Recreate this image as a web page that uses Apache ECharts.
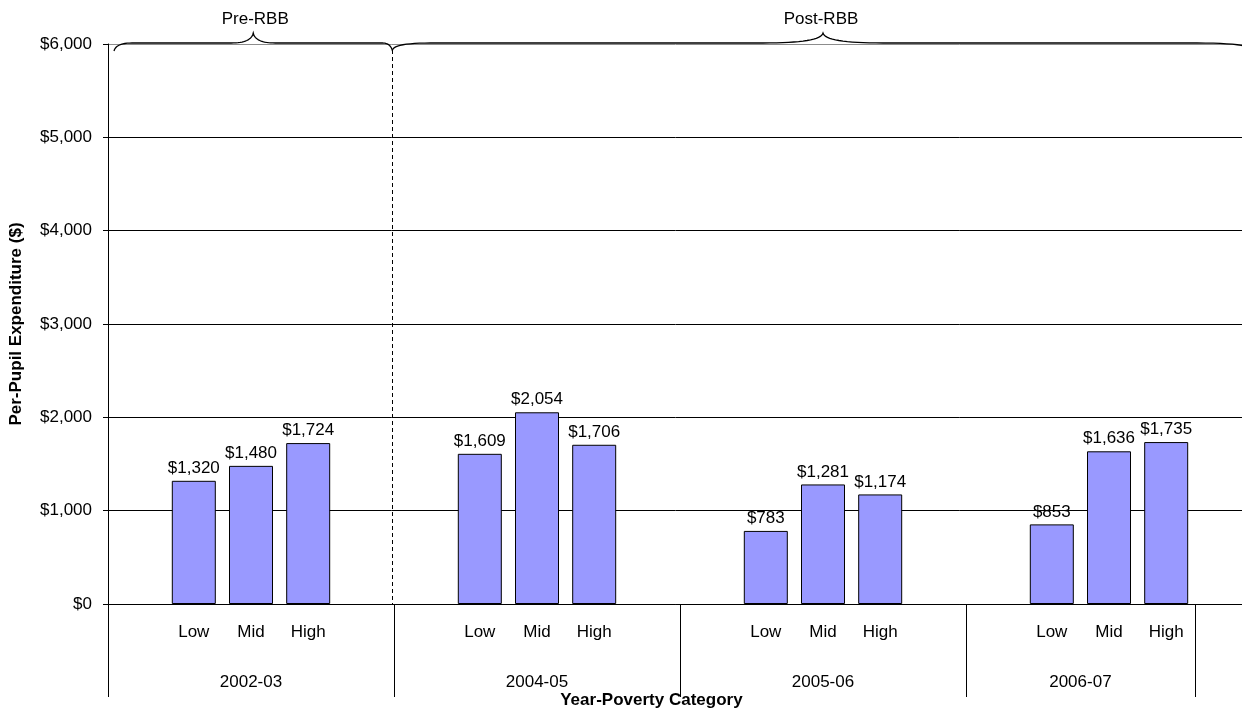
<!DOCTYPE html>
<html>
<head>
<meta charset="utf-8">
<script src="https://cdn.jsdelivr.net/npm/echarts@6/dist/echarts.min.js"></script>
<style>
html,body{margin:0;padding:0;background:#fff;}
#chart{width:1242px;height:708px;}
</style>
</head>
<body>
<div id="chart"></div>
<script>
// ---- data ----
const years = ['2002-03', '2004-05', '2005-06', '2006-07'];
const povertyLevels = ['Low', 'Mid', 'High'];
const values2002 = [1320, 1480, 1724];
const values2004 = [1609, 2054, 1706];
const values2005 = [783, 1281, 1174];
const values2006 = [853, 1636, 1735];
const yTicks = [0, 1000, 2000, 3000, 4000, 5000, 6000];
const periodLabels = ['Pre-RBB', 'Post-RBB'];
const xTitle = 'Year-Poverty Category';
const yTitle = 'Per-Pupil Expenditure ($)';

const allValues = [values2002, values2004, values2005, values2006];

// category slots: blank, Low, Mid, High, blank per year (last year has no trailing blank), then a filler slot
const categories = [];
const barData = [];
const groupBounds = [0];
years.forEach((yr, gi) => {
  categories.push(yr + '|_a'); barData.push(null);
  povertyLevels.forEach((lv, li) => { categories.push(yr + '|' + lv); barData.push(allValues[gi][li]); });
  if (gi < years.length - 1) { categories.push(yr + '|_b'); barData.push(null); }
  groupBounds.push(categories.length);
});
categories.push('end|_c'); barData.push(null);

const FONT = '"Liberation Sans", Arial, sans-serif';
const FS = 17;
const fmtMoney = v => '$' + String(v).replace(/\B(?=(\d{3})+(?!\d))/g, ',');

const chart = echarts.init(document.getElementById('chart'));
const option = {
  animation: false,
  backgroundColor: '#fff',
  textStyle: { fontFamily: FONT },
  grid: { left: 108, top: 44, height: 560, width: 1144, containLabel: false, outerBoundsMode: 'none' },
  xAxis: {
    type: 'category',
    data: categories,
    axisLine: { show: true, lineStyle: { color: '#000', width: 1 } },
    axisTick: { show: false },
    axisLabel: {
      interval: 0, margin: 20, fontSize: FS, color: '#000', fontFamily: FONT,
      formatter: v => { const p = v.split('|')[1]; return p.charAt(0) === '_' ? '' : p; }
    },
    splitLine: { show: false }
  },
  yAxis: {
    type: 'value',
    min: yTicks[0], max: yTicks[yTicks.length - 1], interval: 1000,
    axisLine: { show: true, lineStyle: { color: '#000', width: 1 } },
    axisTick: { show: true, inside: false, length: 5, lineStyle: { color: '#000' } },
    axisLabel: { margin: 16, fontSize: FS, color: '#000', fontFamily: FONT, formatter: fmtMoney },
    splitLine: { show: true, lineStyle: { color: ['#000', '#000', '#000', '#000', '#000', '#000', '#8c8c8c'], width: 1 } },
    name: yTitle, nameLocation: 'middle', nameGap: 83, nameRotate: 90,
    nameTextStyle: { fontSize: FS, fontWeight: 'bold', color: '#000', fontFamily: FONT }
  },
  series: [{
    type: 'bar',
    data: barData,
    barWidth: 44,
    itemStyle: { color: '#9999FF', borderColor: '#000', borderWidth: 1 },
    label: {
      show: true, position: 'top', distance: 4, fontSize: FS, color: '#000', fontFamily: FONT,
      formatter: p => fmtMoney(p.value)
    }
  }]
};
chart.setOption(option);

// ---- decorations placed through the axes ----
const c0 = chart.convertToPixel({ xAxisIndex: 0 }, categories[0]);
const c1 = chart.convertToPixel({ xAxisIndex: 0 }, categories[1]);
const bw = c1 - c0;
const bx = b => c0 - bw / 2 + b * bw;
const yTop = chart.convertToPixel({ yAxisIndex: 0 }, yTicks[yTicks.length - 1]);
const yBase = chart.convertToPixel({ yAxisIndex: 0 }, yTicks[0]);

const g = [];
groupBounds.forEach(b => {
  const x = Math.round(bx(b)) + 0.5;
  g.push({ type: 'line', shape: { x1: x, y1: yBase, x2: x, y2: yBase + 93 },
    style: { stroke: '#000', lineWidth: 1 }, z: 10 });
});
years.forEach((yr, i) => {
  g.push({ type: 'text', x: (bx(groupBounds[i]) + bx(groupBounds[i + 1])) / 2, y: yBase + 78,
    style: { text: yr, font: FS + 'px ' + FONT, fill: '#000', align: 'center', verticalAlign: 'middle' }, z: 10 });
});
g.push({ type: 'text', x: (bx(groupBounds[0]) + bx(groupBounds[groupBounds.length - 1])) / 2, y: yBase + 96,
  style: { text: xTitle, font: 'bold ' + FS + 'px ' + FONT, fill: '#000', align: 'center', verticalAlign: 'middle' }, z: 10 });

const dashX = Math.round(bx(groupBounds[1])) - 1.5;
g.push({ type: 'line', shape: { x1: dashX, y1: yTop + 6, x2: dashX, y2: yBase },
  style: { stroke: '#000', lineWidth: 1, lineDash: [4, 3] }, z: 10 });

// brace as sampled quadratic curves
function quad(p0, c, p1, n) {
  const pts = [];
  for (let i = 0; i <= n; i++) {
    const t = i / n, u = 1 - t;
    pts.push([u * u * p0[0] + 2 * u * t * c[0] + t * t * p1[0], u * u * p0[1] + 2 * u * t * c[1] + t * t * p1[1]]);
  }
  return pts;
}
function brace(x1, x2, xm, y0, endCurveL, endCurveR, peakCurve, drop, rise) {
  let pts = [];
  pts = pts.concat(quad([x1, y0 + drop], [x1 + 2, y0], [x1 + endCurveL, y0], 12));
  pts = pts.concat(quad([xm - peakCurve, y0], [xm - 2, y0], [xm, y0 - rise], 16));
  pts = pts.concat(quad([xm, y0 - rise], [xm + 2, y0], [xm + peakCurve, y0], 16));
  pts = pts.concat(quad([x2 - endCurveR, y0], [x2 - 2, y0], [x2, y0 + drop], 12));
  return pts;
}
const pre1 = bx(groupBounds[0]) + 6, pre2 = dashX;
const preMid = (pre1 + pre2) / 2;
const post1 = dashX, post2 = bx(20);
const postMid = bx(12.5);
g.push({ type: 'polyline', shape: { points: brace(pre1, pre2, preMid, yTop - 1, 18, 10, 22, 8, 10) },
  style: { stroke: '#000', lineWidth: 1.3, fill: null }, z: 12 });
g.push({ type: 'polyline', shape: { points: brace(post1, post2, postMid, yTop - 1, 38, 55, 60, 7, 10) },
  style: { stroke: '#000', lineWidth: 1.3, fill: null }, z: 12 });
g.push({ type: 'text', x: preMid + 2, y: yTop - 25,
  style: { text: periodLabels[0], font: FS + 'px ' + FONT, fill: '#000', align: 'center', verticalAlign: 'middle' }, z: 12 });
g.push({ type: 'text', x: postMid - 2, y: yTop - 25,
  style: { text: periodLabels[1], font: FS + 'px ' + FONT, fill: '#000', align: 'center', verticalAlign: 'middle' }, z: 12 });

chart.setOption({ graphic: g });
</script>
</body>
</html>
